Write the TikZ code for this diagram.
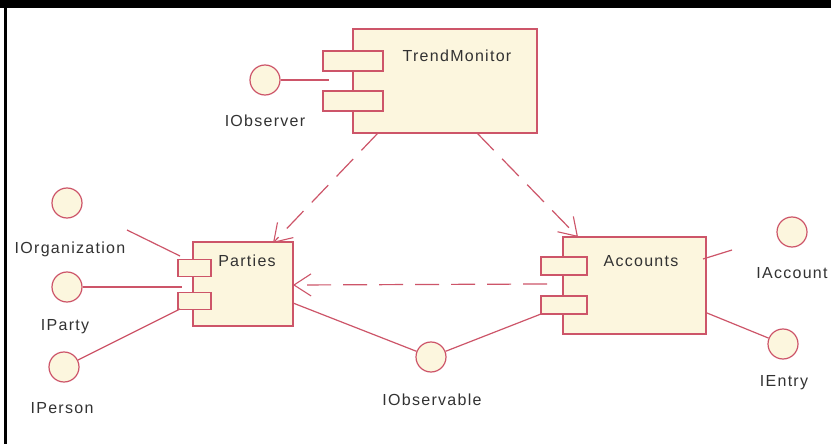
\documentclass[tikz,border=0pt]{standalone}
\usepackage{fontspec}
\newfontfamily\labelfont[LetterSpace=8]{Liberation Sans}
\usetikzlibrary{arrows.meta}
\definecolor{umlline}{RGB}{205,85,105}
\definecolor{umlfill}{RGB}{252,246,222}
\definecolor{umltext}{RGB}{50,50,50}
\begin{document}
\begin{tikzpicture}[x=1pt,y=-1pt,
  box/.style={rectangle, draw=umlline, fill=umlfill, line width=1.3pt, inner sep=0pt},
  iface/.style={circle, draw=umlline, fill=umlfill, line width=1.2pt, minimum size=30pt, inner sep=0pt},
  txt/.style={font=\labelfont\fontsize{16}{19}\selectfont, text=umltext, inner sep=0pt},
  wire/.style={draw=umlline, line width=1.2pt},
  dep/.style={wire, dash pattern=on 24pt off 12pt,
    -{Straight Barb[length=17pt,width=22pt,line width=1.1pt]}}]

% page and frame
\fill[white] (0,0) rectangle (831,444);
\useasboundingbox (0,0) rectangle (831,444);
\fill[black] (0,0) rectangle (831,8);
\fill[black] (4,0) rectangle (7,444);

% components with their two tabs
\node[box, minimum width=184pt, minimum height=104pt] (trend) at (445,81) {};
\node[box, minimum width=60pt, minimum height=20pt] (trendA) at (353,61) {};
\node[box, minimum width=60pt, minimum height=20pt] (trendB) at (353,101) {};
\node[txt] (trendName) at (457,56) {TrendMonitor};

\node[box, minimum width=100pt, minimum height=84pt] (parties) at (243,284) {};
\node[box, minimum width=33pt, minimum height=17pt] (partiesA) at (194.5,268) {};
\node[box, minimum width=33pt, minimum height=17pt] (partiesB) at (194.5,301) {};
\node[txt] (partiesName) at (247,261) {Parties};

\node[box, minimum width=143pt, minimum height=97pt] (accounts) at (634.5,285.5) {};
\node[box, minimum width=46pt, minimum height=18pt] (accountsA) at (564,266) {};
\node[box, minimum width=46pt, minimum height=18pt] (accountsB) at (564,305) {};
\node[txt] (accountsName) at (641,261) {Accounts};

% interfaces
\node[iface] (iobs) at (265,80) {};
\node[txt] (iobsName) at (265,121) {IObserver};
\node[iface] (iorg) at (67,203) {};
\node[txt] (iorgName) at (70,249) {IOrganization};
\node[iface] (iparty) at (67,287) {};
\node[txt] (ipartyName) at (65,327) {IParty};
\node[iface] (iperson) at (64,367) {};
\node[txt] (ipersonName) at (62,408) {IPerson};
\node[iface] (iacc) at (792,232) {};
\node[txt] (iaccName) at (792,273) {IAccount};
\node[iface] (ientry) at (783,344) {};
\node[txt] (ientryName) at (784,383) {IEntry};
\node[iface] (iobl) at (431,357) {};
\node[txt] (ioblName) at (432,400) {IObservable};

% free ends of the interface wires
\coordinate (obsEnd) at (329,80);
\coordinate (orgStart) at (127,230);
\coordinate (orgEnd) at (180,256);
\coordinate (partyEnd) at (182,287);
\coordinate (personEnd) at (180,309);
\coordinate (partiesSide) at (293,303);
\coordinate (accTab) at (541,314);
\coordinate (accStart) at (703,259);
\coordinate (accEnd) at (732,250);
\coordinate (entryStart) at (707,313);

% interface wires
\draw[wire] (iobs) -- (obsEnd);
\draw[wire] (orgStart) -- (orgEnd);
\draw[wire] (iparty) -- (partyEnd);
\draw[wire] (iperson) -- (personEnd);
\draw[wire] (partiesSide) -- (iobl);
\draw[wire] (iobl) -- (accTab);
\draw[wire] (accStart) -- (accEnd);
\draw[wire] (entryStart) -- (ientry);

% dependencies
\coordinate (tmLeft) at (378,133);
\coordinate (tmRight) at (477,133);
\coordinate (partiesTop) at (273,243);
\coordinate (accountsTop) at (578,237);
\coordinate (accDepStart) at (547,284);
\coordinate (partiesRight) at (293,285);
\draw[dep] (tmLeft) -- (partiesTop);
\draw[dep] (tmRight) -- (accountsTop);
\draw[dep] (accDepStart) -- (partiesRight);
\end{tikzpicture}
\end{document}
